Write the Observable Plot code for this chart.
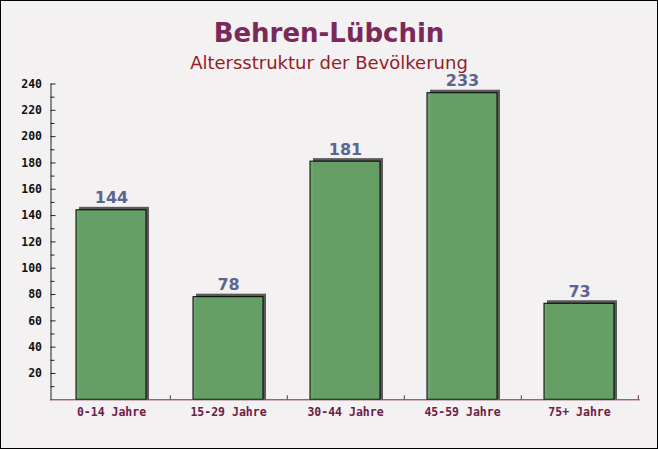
<!DOCTYPE html>
<html>
<head>
<meta charset="utf-8">
<script src="https://cdn.jsdelivr.net/npm/d3@7"></script>
<script src="https://cdn.jsdelivr.net/npm/@observablehq/plot@0.6"></script>
<style>
  html, body { margin: 0; padding: 0; background: #fff; }
  #wrap { position: relative; width: 658px; height: 449px; background: #f4f1f3; overflow: hidden; }
  #wrap svg { position: absolute; left: 0; top: 0; background: transparent; }
  .title { position: absolute; left: 0; width: 658px; text-align: center; white-space: nowrap; }
  #t1 { top: 20px; font: bold 26px/26px "DejaVu Sans", sans-serif; color: #7a2a5a; }
  #t2 { top: 54px; font: 18px/18px "DejaVu Sans", sans-serif; color: #951c22; }
  #border { position: absolute; inset: 0; border: 1px solid #000; pointer-events: none; }
</style>
</head>
<body>
<div id="wrap">
  <div class="title" id="t1">Behren-Lübchin</div>
  <div class="title" id="t2">Altersstruktur der Bevölkerung</div>
  <div id="chart"></div>
  <div id="border"></div>
</div>
<script>
const categories = ["0-14 Jahre", "15-29 Jahre", "30-44 Jahre", "45-59 Jahre", "75+ Jahre"];
const values = [144, 78, 181, 233, 73];
const yTickLabels = [20, 40, 60, 80, 100, 120, 140, 160, 180, 200, 220, 240];
const yMinorTicks = [10, 30, 50, 70, 90, 110, 130, 150, 170, 190, 210, 230];

const data = categories.map((c, i) => ({ category: c, value: values[i] }));

const W = 658, H = 449;
const mT = 83.5, mB = 49.7, mL = 50.5, mR = 19.3;
const plotW = W - mL - mR, plotH = H - mT - mB;
const step = plotW / categories.length;

const mono = "'DejaVu Sans Mono', monospace";

const chart = Plot.plot({
  width: W,
  height: H,
  marginTop: mT,
  marginBottom: mB,
  marginLeft: mL,
  marginRight: mR,
  style: { background: "transparent", overflow: "visible" },
  x: { domain: categories, paddingInner: 0.4, paddingOuter: 0.2, axis: null },
  y: { domain: [0, 240], axis: null },
  marks: [
    // shadow (3D extrusion)
    Plot.barY(data, { x: "category", y: "value", fill: "#5a5a5a", dx: 3, dy: -3, insetBottom: -3 }),
    // bars
    Plot.barY(data, { x: "category", y: "value", fill: "#66a266", fillOpacity: 0.96, stroke: "#000", strokeWidth: 1 }),
    // value labels
    Plot.text(data, { x: "category", y: "value", text: d => String(d.value), dy: -7, lineAnchor: "bottom",
      fill: "#5b6592", fontSize: 16, fontWeight: "bold", fontFamily: "'DejaVu Sans', sans-serif" }),
    // y axis line
    Plot.frame({ anchor: "left", stroke: "#222" }),
    // x axis line
    Plot.frame({ anchor: "bottom", stroke: "#6a2a4a" }),
    // y major ticks (inward)
    Plot.ruleY(yTickLabels, { y: d => d, stroke: "#222", insetRight: plotW - 5 }),
    // y minor ticks
    Plot.ruleY(yMinorTicks, { y: d => d, stroke: "#222", insetRight: plotW - 4 }),
    // y tick labels
    Plot.text(yTickLabels, { y: d => d, text: d => String(d), frameAnchor: "left", textAnchor: "end", dx: -9,
      lineAnchor: "middle", fill: "#111", fontSize: 11.5, fontWeight: "bold", fontFamily: mono }),
    // x boundary ticks (upward)
    Plot.ruleX(categories, { x: d => d, dx: step / 2, stroke: "#6a2a4a", insetTop: plotH - 4 }),
    // x labels
    Plot.text(categories, { x: d => d, text: d => d, frameAnchor: "bottom", dy: 16, lineAnchor: "bottom",
      fill: "#6a2046", fontSize: 11.5, fontWeight: "bold", fontFamily: mono })
  ]
});
document.getElementById("chart").appendChild(chart);
</script>
</body>
</html>
